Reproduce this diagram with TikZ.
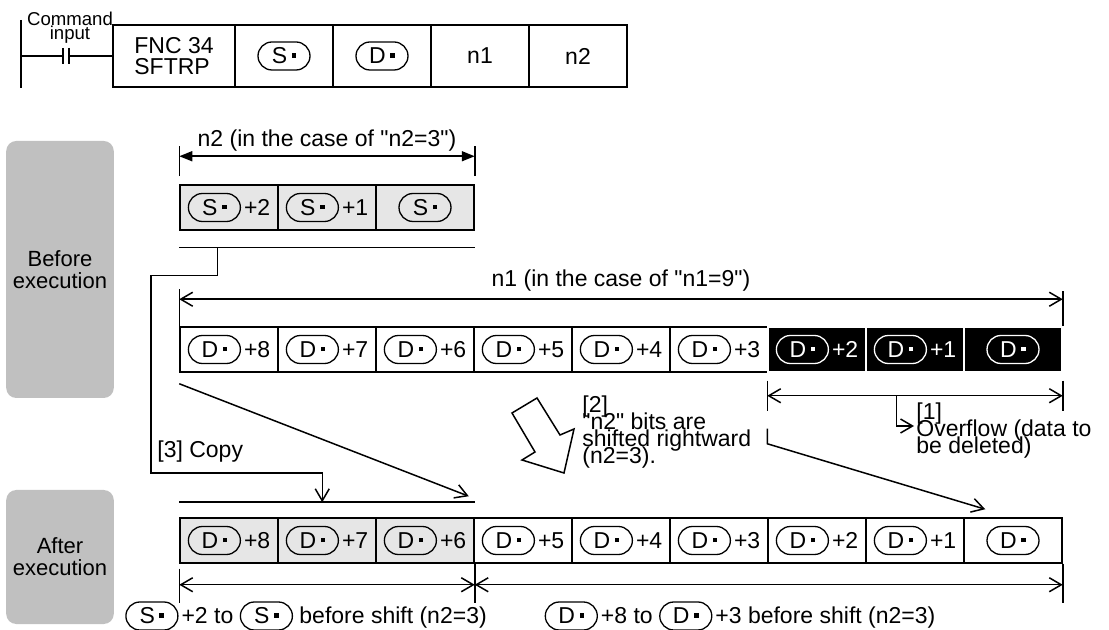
\documentclass[tikz,border=0pt]{standalone}
\usepackage{fontspec}
\setmainfont{Liberation Sans}[Ligatures=TeXOff]
\usepackage{tikz}
\usetikzlibrary{calc,arrows.meta}

\definecolor{sftpanel}{HTML}{C0C0C0}
\definecolor{sftcell}{HTML}{E6E6E6}
\newcommand{\sftfont}{\fontsize{11.5}{8.5}\selectfont\lineskiplimit=-20pt\relax}
\newcommand{\cmdfont}{\fontsize{9.3}{7}\selectfont\lineskiplimit=-20pt\relax}
\newcommand{\fncfont}{\fontsize{11.5}{10.5}\selectfont}
\newcommand{\panelfont}{\fontsize{11}{11}\selectfont}
\newcommand{\sftdot}{\rule[0.27em]{0.2em}{0.2em}}
\newcommand{\opnd}[2][black]{\tikz[baseline=(o.base)]\node[opnd, draw=#1, text=#1] (o) {#2\hspace{2.2pt}\sftdot};}

\begin{document}
\begin{tikzpicture}[
    x=0.5pt, y=-0.5pt,
    opnd/.style={rectangle, rounded corners=7pt, minimum width=26pt, minimum height=14pt,
                 inner sep=0pt, line width=0.65pt, fill=none, anchor=center, font=\sftfont},
    cell/.style={rectangle, draw, line width=0.75pt, minimum width=49pt, minimum height=22.5pt,
                 inner sep=0pt, font=\sftfont},
    cellg/.style={cell, fill=sftcell},
    cellk/.style={cell, fill=black, draw=white, text=white},
    instr/.style={cell, minimum height=31pt, align=left, font=\fncfont},
    panel/.style={rectangle, rounded corners=5pt, fill=sftpanel, minimum width=53pt, align=center,
                  font=\panelfont},
    note/.style={font=\sftfont, align=left, inner sep=0pt},
    wire/.style={line width=0.75pt},
    tick/.style={line width=0.75pt},
    dimf/.style={{Triangle[length=6.5pt, width=5pt]}-{Triangle[length=6.5pt, width=5pt]}, line width=0.75pt},
    dimo/.style={{Straight Barb[length=6pt, width=7pt]}-{Straight Barb[length=6pt, width=7pt]}, line width=0.75pt},
    flowo/.style={-{Straight Barb[length=6pt, width=7pt]}, line width=0.75pt},
  ]
  \useasboundingbox (0,0) rectangle (1109,630);

  % ladder rung
  \node[font=\cmdfont, align=center, inner sep=0pt] (CMD) at (70,28) {Command\\input};
  \node[instr, minimum width=61pt] (FNC) at (174,56) {FNC 34\\SFTRP};
  \node[instr] (OPS) at (284,56) {\opnd{S}};
  \node[instr] (OPD) at (382,56) {\opnd{D}};
  \node[instr] (ON1) at (480,56) {n1};
  \node[instr] (ON2) at (578,56) {n2};
  \coordinate (K1) at (63,56);
  \coordinate (K2) at (69,56);
  \draw[wire] (21,20) -- (21,88);
  \draw[wire] (21,56) -- (K1);
  \draw[wire] ($(K1)+(0,-8)$) -- ($(K1)+(0,8)$);
  \draw[wire] ($(K2)+(0,-8)$) -- ($(K2)+(0,8)$);
  \draw[wire] (K2) -- (FNC.west);

  % side panels
  \node[panel, minimum height=128.5pt] (BEF) at (60,269.5) {Before\\execution};
  \node[panel, minimum height=67pt] (AFT) at (60,557) {After\\execution};

  % source words
  \node[cellg] (S2) at (229,207.5) {\opnd{S}\hspace{1.5pt}+2};
  \node[cellg] (S1) at (327,207.5) {\opnd{S}\hspace{1.5pt}+1};
  \node[cellg] (S0) at (425,207.5) {\opnd{S}};

  % destination before shift
  \node[cell]  (B8) at (229,349.5) {\opnd{D}\hspace{1.5pt}+8};
  \node[cell]  (B7) at (327,349.5) {\opnd{D}\hspace{1.5pt}+7};
  \node[cell]  (B6) at (425,349.5) {\opnd{D}\hspace{1.5pt}+6};
  \node[cell]  (B5) at (523,349.5) {\opnd{D}\hspace{1.5pt}+5};
  \node[cell]  (B4) at (621,349.5) {\opnd{D}\hspace{1.5pt}+4};
  \node[cell]  (B3) at (719,349.5) {\opnd{D}\hspace{1.5pt}+3};
  \node[cellk] (B2) at (817,349.5) {\opnd[white]{D}\hspace{1.5pt}+2};
  \node[cellk] (B1) at (915,349.5) {\opnd[white]{D}\hspace{1.5pt}+1};
  \node[cellk] (B0) at (1013,349.5) {\opnd[white]{D}};

  % destination after shift
  \node[cellg] (A8) at (229,540.5) {\opnd{D}\hspace{1.5pt}+8};
  \node[cellg] (A7) at (327,540.5) {\opnd{D}\hspace{1.5pt}+7};
  \node[cellg] (A6) at (425,540.5) {\opnd{D}\hspace{1.5pt}+6};
  \node[cell]  (A5) at (523,540.5) {\opnd{D}\hspace{1.5pt}+5};
  \node[cell]  (A4) at (621,540.5) {\opnd{D}\hspace{1.5pt}+4};
  \node[cell]  (A3) at (719,540.5) {\opnd{D}\hspace{1.5pt}+3};
  \node[cell]  (A2) at (817,540.5) {\opnd{D}\hspace{1.5pt}+2};
  \node[cell]  (A1) at (915,540.5) {\opnd{D}\hspace{1.5pt}+1};
  \node[cell]  (A0) at (1013,540.5) {\opnd{D}};

  % n2 width
  \node[note] (N2L) at (327,141) {n2 (in the case of "n2=3")};
  \draw[tick] ($(S2.north west)+(0,-8)$) -- ++(0,-30);
  \draw[tick] ($(S0.north east)+(0,-8)$) -- ++(0,-30);
  \draw[dimf] ($(S2.north west)+(0,-28)$) -- ($(S0.north east)+(0,-28)$);

  % n1 width
  \node[note] (N1L) at (621,281) {n1 (in the case of "n1=9")};
  \draw[tick] (B8.north west) -- ++(0,-37);
  \draw[tick] (B0.north east) -- ++(0,-35);
  \draw[dimo] ($(B8.north west)+(0,-27)$) -- ($(B0.north east)+(0,-27)$);

  % [1] overflow
  \node[note, anchor=west] (OVF) at (916,431) {[1]\\Overflow (data to\\be deleted)};
  \draw[tick] ($(B2.south west)+(0,8)$) -- ++(0,30);
  \draw[tick] ($(B0.south east)+(0,8)$) -- ++(0,30);
  \draw[dimo] ($(B2.south west)+(0,23)$) -- ($(B0.south east)+(0,23)$);
  \coordinate (ovf) at ($(B2.south west)+(129,23)$);
  \draw[flowo] (ovf) |- ($(OVF.west)+(-2,-5)$);

  % [2] shift
  \node[note, anchor=west] (SHF) at (582,432.5) {[2]\\"n2" bits are\\shifted rightward\\(n2=3).};
  \draw[line width=0.75pt, fill=white] (512,413) -- (537,398) -- (560,435) -- (574,429)
    -- (564,473) -- (522,460) -- (535,452) -- cycle;
  \coordinate (shf0) at ($(B2.south west)+(0,56)$);
  \draw[flowo] (shf0) -- ++(0,15) -- ($(A0.north west)+(22,-8)$);
  \draw[flowo] ($(B8.south west)+(0,11)$) -- ($(A6.north east)+(-6,-21)$);

  % [3] copy
  \node[note, anchor=west] (CPY) at (157,452) {[3] Copy};
  \draw[tick] ($(S2.south west)+(0,17)$) -- ($(S0.south east)+(0,17)$);
  \draw[tick] ($(A8.north west)+(0,-15)$) -- ($(A6.north east)+(0,-15)$);
  \coordinate (cpy0) at ($(S2.south west)+(38,17)$);
  \coordinate (cpy1) at ($(A8.north west)+(143,-15)$);
  \draw[flowo] (cpy0) -- ++(0,28) -| (151,473) -| (cpy1);

  % widths after shift
  \draw[tick] ($(A8.south west)+(0,5)$) -- ++(0,34);
  \draw[tick] (A6.south east) -- ++(0,39);
  \draw[tick] (A0.south east) -- ++(0,39);
  \draw[dimo] ($(A8.south west)+(0,21)$) -- ($(A6.south east)+(0,21)$);
  \draw[dimo] ($(A6.south east)+(0,21)$) -- ($(A0.south east)+(0,21)$);
  \node[note] (CAPS) at (306,616) {\opnd{S}\hspace{1.5pt}+2 to \opnd{S} before shift (n2=3)};
  \node[note] (CAPD) at (740,616) {\opnd{D}\hspace{1.5pt}+8 to \opnd{D}\hspace{1.5pt}+3 before shift (n2=3)};

\end{tikzpicture}
\end{document}
